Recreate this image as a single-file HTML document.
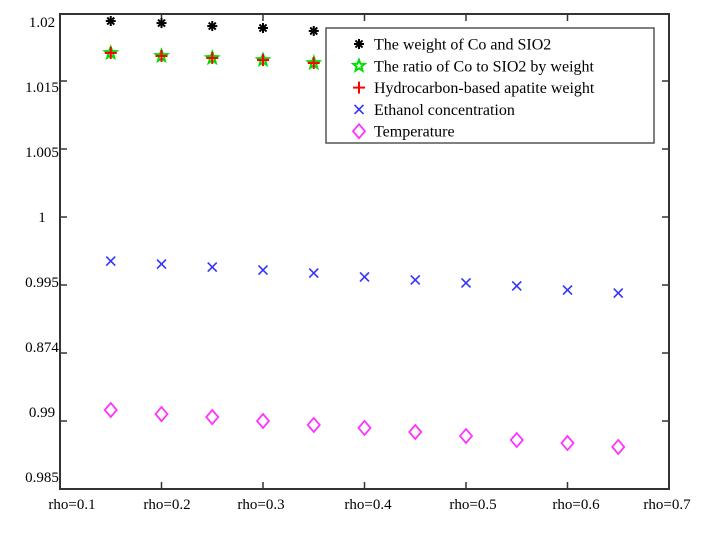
<!DOCTYPE html>
<html><head><meta charset="utf-8"><style>
body{margin:0;background:#fff;}
svg text{font-family:"Liberation Serif",serif;}
</style></head><body>
<svg id="chart" width="702" height="531" viewBox="0 0 702 531">
<rect x="0" y="0" width="702" height="531" fill="#fff"/>
<g id="ticks"></g>
<g id="marks"></g>
<rect x="60" y="14" width="609" height="475" fill="none" stroke="#333" stroke-width="2"/>
<g id="labels"></g>
<g id="legend">
<rect x="326" y="28" width="328" height="115" fill="#fff" stroke="#555" stroke-width="1.5"/>
</g>
</svg>
<script>
const xCats = [0.15,0.2,0.25,0.3,0.35,0.4,0.45,0.5,0.55,0.6,0.65];
const weightCo = [1.01941,1.01926,1.01904,1.0189,1.01868,1.01846,1.01824,1.01802,1.0178,1.01758,1.01736];
const ratioCo = [1.01706,1.01684,1.01669,1.01654,1.01632,1.0161,1.01588,1.01566,1.01544,1.01522,1.015];
const apatite = [1.01706,1.01684,1.01669,1.01654,1.01632,1.0161,1.01588,1.01566,1.01544,1.01522,1.015];
const ethanol = [1.00176,1.00154,1.00132,1.0011,1.00088,1.00059,1.00037,1.00015,0.99993,0.99963,0.99941];
const temperature = [0.99081,0.99051,0.99029,0.99,0.98971,0.98949,0.98919,0.9889,0.9886,0.98838,0.98809];
const yTickLabels = ["1.02","1.015","1.005","1","0.995","0.874","0.99","0.985"];
const xTickLabels = ["rho=0.1","rho=0.2","rho=0.3","rho=0.4","rho=0.5","rho=0.6","rho=0.7"];
const xTickVals = [0.1,0.2,0.3,0.4,0.5,0.6,0.7];
const yTickVals = [1.015,1.01,1.005,1.0,0.995,0.99];
const legendNames = ["The weight of Co and SIO2","The ratio of Co to SIO2 by weight","Hydrocarbon-based apatite weight","Ethanol concentration","Temperature"];

const NS="http://www.w3.org/2000/svg";
function xS(v){return 60+(v-0.1)/0.6*609;}
function yS(v){return 81+(1.015-v)/0.005*68;}
function mk(tag,attrs,parent){const e=document.createElementNS(NS,tag);for(const k in attrs)e.setAttribute(k,attrs[k]);parent.appendChild(e);return e;}
const ticks=document.getElementById('ticks'),marks=document.getElementById('marks'),labels=document.getElementById('labels'),legend=document.getElementById('legend');

xTickVals.forEach(v=>{const x=xS(v);
 let t=mk('line',{x1:x,x2:x,y1:489,y2:482,stroke:'#333','stroke-width':1.5},ticks);
 
 
 t=mk('line',{x1:x,x2:x,y1:14,y2:21,stroke:'#333','stroke-width':1.5},ticks);
 
 
});
yTickVals.forEach(v=>{const y=yS(v);
 let t=mk('line',{x1:60,x2:67,y1:y,y2:y,stroke:'#333','stroke-width':1.5},ticks);
 
 
 t=mk('line',{x1:662,x2:669,y1:y,y2:y,stroke:'#333','stroke-width':1.5},ticks);
 
 
});
yTickLabels.forEach((s,i)=>{
 const t=mk('text',{x:42,y:27+i*65,'text-anchor':'middle','font-size':15,fill:'#000'},labels);
 t.textContent=s;
 
 
});
xTickLabels.forEach((s,i)=>{
 const cx=[72,167,261,368,473,576,667][i];
 const t=mk('text',{x:cx,y:509,'text-anchor':'middle','font-size':15,fill:'#000'},labels);
 t.textContent=s;
 
 
});

function drawMarker(type,x,y,g){
 if(type==='star'){ // asterisk
  for(let a=0;a<180;a+=45){const r=a*Math.PI/180;mk('line',{x1:x-5*Math.cos(r),y1:y-5*Math.sin(r),x2:x+5*Math.cos(r),y2:y+5*Math.sin(r),stroke:'#000','stroke-width':2},g);}
 } else if(type==='pent'){
  let p=[];for(let k=0;k<10;k++){const r=(k%2?2.5:6);const a=-Math.PI/2+k*Math.PI/5;p.push((x+r*Math.cos(a)).toFixed(1)+','+(y+r*Math.sin(a)).toFixed(1));}
  mk('polygon',{points:p.join(' '),fill:'none',stroke:'#0d0','stroke-width':2},g);
 } else if(type==='plus'){
  mk('line',{x1:x-6,x2:x+6,y1:y,y2:y,stroke:'#f00','stroke-width':2},g);
  mk('line',{x1:x,x2:x,y1:y-6,y2:y+6,stroke:'#f00','stroke-width':2},g);
 } else if(type==='x'){
  mk('line',{x1:x-4.5,x2:x+4.5,y1:y-4.5,y2:y+4.5,stroke:'#33f','stroke-width':1.6},g);
  mk('line',{x1:x-4.5,x2:x+4.5,y1:y+4.5,y2:y-4.5,stroke:'#33f','stroke-width':1.6},g);
 } else {
  mk('polygon',{points:`${x},${y-7} ${x+6},${y} ${x},${y+7} ${x-6},${y}`,fill:'none',stroke:'#f3f','stroke-width':1.8},g);
 }
}
const series=[[weightCo,'star','series-weight-co'],[ratioCo,'pent','series-ratio-co'],[apatite,'plus','series-apatite'],[ethanol,'x','series-ethanol'],[temperature,'dia','series-temperature']];
series.forEach(([vals,type,name])=>{
 const g=mk('g',{},marks);
 
 
 vals.forEach((v,i)=>{
  const p=mk('g',{},g);
  
  
  drawMarker(type,xS(xCats[i]),yS(v),p);
 });
});
legendNames.forEach((s,i)=>{
 const y=44+i*21.8;
 const g=mk('g',{},legend);
 
 
 drawMarker(series[i][1],359,y,g);
 const t=mk('text',{x:374,y:y+5.5,'font-size':16,fill:'#000'},g);
 t.textContent=s;
});
</script>
</body></html>
